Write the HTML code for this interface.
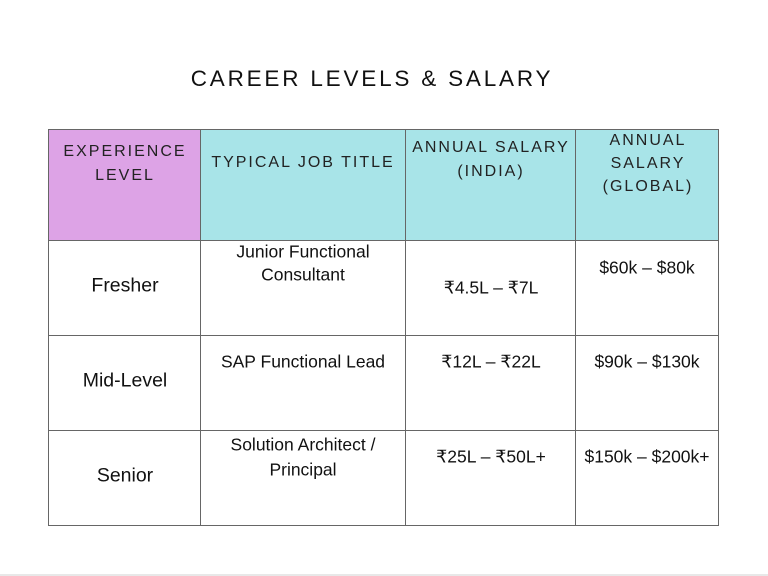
<!DOCTYPE html>
<html><head><meta charset="utf-8"><style>
body{margin:0;width:768px;height:576px;background:#fff;position:relative;overflow:hidden;font-family:"Liberation Sans","DejaVu Sans",sans-serif;color:#111}
.t{position:absolute;transform:translate(-50%,-50%);white-space:nowrap;line-height:1}
.h{font-size:16px;letter-spacing:2px;color:#222}
.b{font-size:17.5px}
.c{position:absolute;box-sizing:border-box}
.v{position:absolute;top:129px;height:397px;width:1px;background:#666}
.r{position:absolute;left:48px;width:671px;height:1px;background:#666}
</style></head><body>
<div class="t" style="left:372px;top:79px;font-size:22.5px;letter-spacing:2.8px;color:#111">CAREER LEVELS &amp; SALARY</div>
<div class="c" style="left:48px;top:129px;width:152px;height:111px;background:#dda3e6"></div>
<div class="c" style="left:200px;top:129px;width:519px;height:111px;background:#a8e4e8"></div>
<div class="v" style="left:48px"></div><div class="v" style="left:200px"></div><div class="v" style="left:405px"></div><div class="v" style="left:575px"></div><div class="v" style="left:718px"></div>
<div class="r" style="top:129px"></div><div class="r" style="top:240px"></div><div class="r" style="top:335px"></div><div class="r" style="top:430px"></div><div class="r" style="top:525px"></div>
<div style="position:absolute;left:0;top:574px;width:768px;height:2px;background:#e8e8e8"></div>

<div class="t h" style="left:125px;top:152px">EXPERIENCE</div>
<div class="t h" style="left:125px;top:176px">LEVEL</div>
<div class="t h" style="left:303px;top:163px">TYPICAL JOB TITLE</div>
<div class="t h" style="left:491px;top:148px">ANNUAL SALARY</div>
<div class="t h" style="left:491px;top:172px">(INDIA)</div>
<div class="t h" style="left:648px;top:141px">ANNUAL</div>
<div class="t h" style="left:648px;top:164px">SALARY</div>
<div class="t h" style="left:648px;top:187px">(GLOBAL)</div>

<div class="t" style="left:125px;top:286px;font-size:19.5px">Fresher</div>
<div class="t b" style="left:303px;top:252px">Junior Functional</div>
<div class="t b" style="left:303px;top:275px">Consultant</div>
<div class="t b" style="left:491px;top:288px">₹4.5L – ₹7L</div>
<div class="t b" style="left:647px;top:268px">$60k – $80k</div>

<div class="t" style="left:125px;top:381px;font-size:19.5px">Mid-Level</div>
<div class="t b" style="left:303px;top:362px">SAP Functional Lead</div>
<div class="t b" style="left:491px;top:362px">₹12L – ₹22L</div>
<div class="t b" style="left:647px;top:362px">$90k – $130k</div>

<div class="t" style="left:125px;top:476px;font-size:19.5px">Senior</div>
<div class="t b" style="left:303px;top:445px">Solution Architect /</div>
<div class="t b" style="left:303px;top:470px">Principal</div>
<div class="t b" style="left:491px;top:457px">₹25L – ₹50L+</div>
<div class="t b" style="left:647px;top:457px">$150k – $200k+</div>
</body></html>
